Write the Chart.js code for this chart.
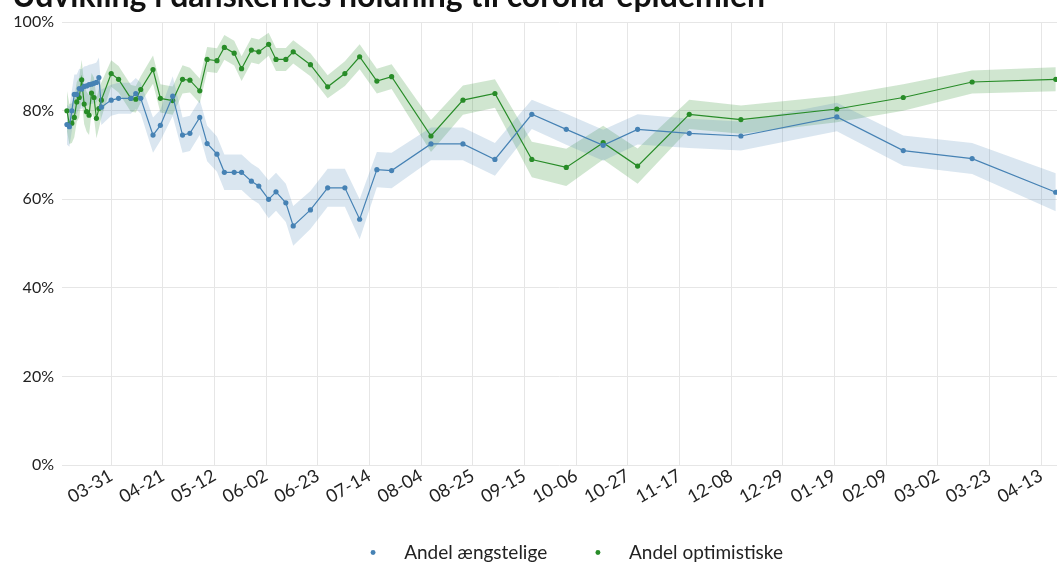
<!DOCTYPE html>
<html>
<head>
<meta charset="utf-8">
<script src="https://cdn.jsdelivr.net/npm/chart.js@4.4.1/dist/chart.umd.min.js"></script>
<style>
  html, body { margin: 0; padding: 0; background: #fff; overflow: hidden; }
  #wrap { width: 1061px; height: 563px; overflow: hidden; }
  #chart { display: block; }
</style>
</head>
<body>
<div id="wrap"><canvas id="chart" width="1061" height="572"></canvas></div>
<script>
// survey dates (one entry per measurement)
const surveyDates = [
  '2020-03-13', '2020-03-14', '2020-03-15', '2020-03-16', '2020-03-17', '2020-03-18', '2020-03-19',
  '2020-03-20', '2020-03-21', '2020-03-22', '2020-03-23', '2020-03-24', '2020-03-25', '2020-03-26',
  '2020-03-27', '2020-03-31', '2020-04-03', '2020-04-08', '2020-04-10', '2020-04-12', '2020-04-17',
  '2020-04-20', '2020-04-25', '2020-04-29', '2020-05-02', '2020-05-06', '2020-05-09', '2020-05-13',
  '2020-05-16', '2020-05-20', '2020-05-23', '2020-05-27', '2020-05-30', '2020-06-03', '2020-06-06',
  '2020-06-10', '2020-06-13', '2020-06-20', '2020-06-27', '2020-07-04', '2020-07-10', '2020-07-17',
  '2020-07-23', '2020-08-08', '2020-08-21', '2020-09-03', '2020-09-18', '2020-10-02', '2020-10-17',
  '2020-10-31', '2020-11-21', '2020-12-12', '2021-01-20', '2021-02-16', '2021-03-16', '2021-04-19'
];

// Andel ængstelige (%) and half-width of its band
const anxiousShare = [
  76.9, 76.4, 80.0, 83.7, 83.7, 85.0, 84.9, 85.5, 85.6, 85.9, 86.0, 86.2, 86.4, 87.5, 80.8,
  82.4, 82.8, 82.8, 83.9, 82.8, 74.5, 76.7, 83.3, 74.5, 74.9, 78.5, 72.6, 70.2, 66.1, 66.1,
  66.1, 64.1, 63.0, 60.0, 61.7, 59.2, 54.0, 57.6, 62.6, 62.6, 55.5, 66.7, 66.5, 72.5, 72.5,
  69.0, 79.2, 75.8, 72.2, 75.8, 74.9, 74.3, 78.6, 71.0, 69.2, 61.6
];
const anxiousMargin = [
  4.5, 4.5, 4.5, 4.5, 4.5, 4.5, 4.5, 4.5, 4.5, 4.5, 4.5, 4.5, 4.5, 4.5, 4.0,
  3.5, 3.5, 3.5, 3.5, 3.5, 4.0, 3.5, 4.5, 4.0, 4.0, 4.0, 4.0, 4.0, 4.0, 4.0,
  4.0, 4.0, 4.0, 4.3, 4.3, 4.3, 4.5, 4.3, 4.3, 4.3, 4.5, 4.0, 4.0, 3.7, 3.7,
  3.7, 3.3, 3.5, 3.5, 3.4, 3.3, 3.3, 3.2, 3.4, 3.5, 4.3
];

// Andel optimistiske (%) and half-width of its band
const optimisticShare = [
  80.0, 77.0, 77.2, 78.5, 82.0, 83.0, 87.0, 81.5, 79.8, 79.0, 84.0, 83.0, 78.3, 80.5, 82.4,
  88.4, 87.1, 82.8, 82.6, 84.8, 89.3, 82.8, 82.3, 87.1, 86.9, 84.5, 91.6, 91.3, 94.3, 93.0,
  89.5, 93.7, 93.3, 95.0, 91.6, 91.6, 93.3, 90.4, 85.4, 88.4, 92.2, 86.7, 87.7, 74.3, 82.4,
  83.9, 69.0, 67.2, 72.8, 67.5, 79.2, 78.0, 80.4, 83.0, 86.5, 87.1
];
const optimisticMargin = [
  4.5, 4.5, 4.5, 4.5, 4.5, 4.5, 4.5, 4.5, 4.5, 4.5, 4.5, 4.5, 4.5, 4.5, 4.0,
  3.0, 3.0, 3.0, 3.0, 3.0, 3.2, 3.2, 3.2, 3.2, 2.8, 2.8, 2.8, 2.8, 2.8, 2.8,
  2.8, 2.8, 2.8, 2.6, 2.6, 2.6, 2.6, 2.6, 2.6, 2.8, 2.8, 2.8, 2.8, 3.6, 3.3,
  3.2, 4.0, 4.2, 3.8, 4.0, 3.3, 3.2, 3.0, 3.0, 2.6, 2.7
];

const xTickDates = [
  '2020-03-31', '2020-04-21', '2020-05-12', '2020-06-02', '2020-06-23', '2020-07-14', '2020-08-04',
  '2020-08-25', '2020-09-15', '2020-10-06', '2020-10-27', '2020-11-17', '2020-12-08', '2020-12-29',
  '2021-01-19', '2021-02-09', '2021-03-02', '2021-03-23', '2021-04-13'
];
const xRange = ['2020-03-11', '2021-04-19'];

const BLUE = 'rgb(70, 130, 180)';
const BLUE_BAND = 'rgba(70, 130, 180, 0.2)';
const GREEN = 'rgb(40, 140, 40)';
const GREEN_BAND = 'rgba(40, 140, 40, 0.22)';
const GRID = '#e6e6e6';

// days are counted from 2020-03-31 so the 3-week ticks land on whole numbers
const DAY0 = Date.UTC(2020, 2, 31);
function dayOf(s) {
  const [y, m, d] = s.split('-').map(Number);
  return Math.round((Date.UTC(y, m - 1, d) - DAY0) / 86400000);
}
function mmdd(day) {
  const dt = new Date(DAY0 + day * 86400000);
  return String(dt.getUTCMonth() + 1).padStart(2, '0') + '-' + String(dt.getUTCDate()).padStart(2, '0');
}

const xs = surveyDates.map(dayOf);
const toPoints = vals => vals.map((v, i) => ({ x: xs[i], y: v }));
const band = (vals, margin, sign) => vals.map((v, i) => ({ x: xs[i], y: v + sign * margin[i] }));

Chart.defaults.font.family = 'Lato, "Open Sans", sans-serif';
Chart.defaults.color = '#222';

function lineSet(label, vals, color) {
  return {
    label: label,
    data: toPoints(vals),
    borderColor: color,
    backgroundColor: color,
    borderWidth: 1.2,
    pointRadius: 2.6,
    pointBorderWidth: 0,
    pointStyle: 'circle',
    fill: false,
    order: 0
  };
}
function bandSet(label, vals, margin, sign, color, fill) {
  return {
    label: label,
    data: band(vals, margin, sign),
    borderWidth: 0,
    pointRadius: 0,
    backgroundColor: color,
    fill: fill,
    order: 1
  };
}

// the legend sits a little right of the plot centre in the original
const nudgeLegend = {
  id: 'nudgeLegend',
  afterLayout(chart) { chart.legend.left += 30; }
};

new Chart(document.getElementById('chart').getContext('2d'), {
  type: 'line',
  data: {
    datasets: [
      lineSet('Andel ængstelige', anxiousShare, BLUE),
      lineSet('Andel optimistiske', optimisticShare, GREEN),
      bandSet('ængstelige lav', anxiousShare, anxiousMargin, -1, BLUE_BAND, false),
      bandSet('ængstelige høj', anxiousShare, anxiousMargin, 1, BLUE_BAND, '-1'),
      bandSet('optimistiske lav', optimisticShare, optimisticMargin, -1, GREEN_BAND, false),
      bandSet('optimistiske høj', optimisticShare, optimisticMargin, 1, GREEN_BAND, '-1')
    ]
  },
  plugins: [nudgeLegend],
  options: {
    responsive: false,
    animation: false,
    layout: { padding: { left: 12, right: 0, top: 0, bottom: 0 } },
    plugins: {
      title: {
        display: true,
        text: 'Udvikling i danskernes holdning til corona-epidemien',
        align: 'start',
        color: '#111',
        font: { size: 32, weight: 'bold' },
        padding: { top: -23, bottom: 6.8 }
      },
      legend: {
        position: 'bottom',
        fullSize: false,
        labels: {
          usePointStyle: true,
          boxWidth: 14,
          boxHeight: 3.5,
          padding: 34,
          font: { size: 19 },
          filter: item => item.datasetIndex < 2,
          generateLabels: chart => Chart.defaults.plugins.legend.labels.generateLabels(chart)
            .map(item => Object.assign(item, {
              text: '   ' + item.text + (item.datasetIndex === 0 ? '  ' : '')
            }))
        }
      },
      tooltip: { enabled: false }
    },
    scales: {
      x: {
        type: 'linear',
        min: dayOf(xRange[0]),
        max: dayOf(xRange[1]) + 0.5,
        afterBuildTicks: scale => { scale.ticks = xTickDates.map(s => ({ value: dayOf(s) })); },
        afterFit: scale => { scale.height = 44; },
        grid: { color: GRID, drawTicks: false },
        border: { display: false },
        ticks: {
          autoSkip: false,
          minRotation: 30,
          maxRotation: 30,
          padding: 0,
          font: { size: 18 },
          callback: v => mmdd(v)
        }
      },
      y: {
        min: 0,
        max: 100,
        afterFit: scale => { scale.width = 50; },
        grid: { color: GRID, drawTicks: false },
        border: { display: false },
        ticks: {
          stepSize: 20,
          padding: 8,
          font: { size: 16 },
          callback: v => v + '%'
        }
      }
    }
  }
});
</script>
</body>
</html>
